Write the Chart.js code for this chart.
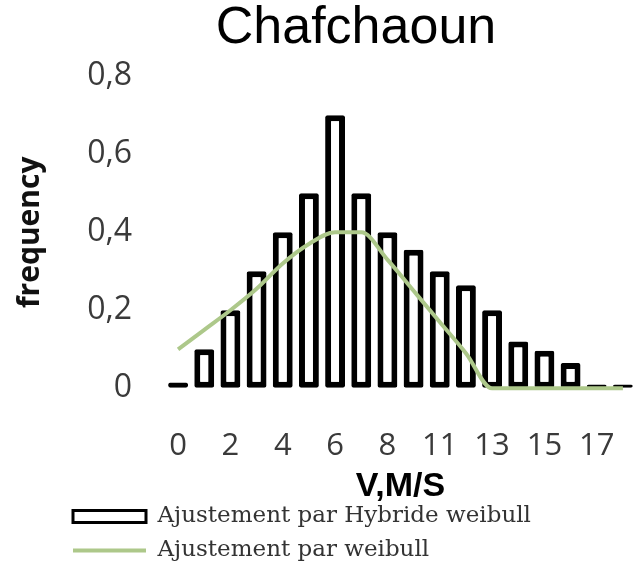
<!DOCTYPE html>
<html>
<head>
<meta charset="utf-8">
<script src="https://cdn.jsdelivr.net/npm/chart.js@4"></script>
<style>
  html, body { margin: 0; padding: 0; background: #fff; }
  #wrap { width: 639px; height: 567px; }
</style>
</head>
<body>
<div id="wrap"><canvas id="my-chart" width="639" height="567"></canvas></div>
<script>
// wind speed classes (V, m/s)
const speedLabels = ["0", "1", "2", "3", "4", "5", "6", "7", "8", "9", "11", "12", "13", "14", "15", "16", "17", "18"];
// Ajustement par Hybride weibull (bars)
const hybridValues = [0.015, 0.1, 0.2, 0.3, 0.4, 0.5, 0.7, 0.5, 0.4, 0.355, 0.3, 0.264, 0.2, 0.12, 0.096, 0.065, 0.01, 0.01];
// Ajustement par weibull (line)
const weibullValues = [0.1, 0.15, 0.2, 0.255, 0.32, 0.37, 0.4, 0.4, 0.33, 0.25, 0.17, 0.09, 0, 0, 0, 0, 0, 0];
const yTickValues = [0, 0.2, 0.4, 0.6, 0.8];
const yTickLabels = ["0", "0,2", "0,4", "0,6", "0,8"];

// move the title and legend sideways, like in the original picture
const nudge = {
  id: "nudge",
  afterLayout(chart) {
    chart.titleBlock.left += 36;
    chart.titleBlock.right += 36;
    chart.legend.left += 58;
    chart.legend.right += 58;
  }
};

// invisible tick marks, used as spacing between the axis and its labels
const hiddenGrid = (len) => ({
  display: true,
  drawOnChartArea: false,
  drawTicks: true,
  tickLength: len,
  color: "rgba(0,0,0,0)"
});

const ctx = document.getElementById("my-chart").getContext("2d");
const chart = new Chart(ctx, {
  type: "bar",
  data: {
    labels: speedLabels,
    datasets: [
      {
        type: "line",
        label: "Ajustement par weibull",
        data: weibullValues,
        borderColor: "#adc88a",
        backgroundColor: "#adc88a",
        borderWidth: 4,
        pointRadius: 0,
        pointStyle: "line",
        cubicInterpolationMode: "monotone",
        clip: 8
      },
      {
        label: "Ajustement par Hybride weibull",
        data: hybridValues,
        backgroundColor: "#ffffff",
        borderColor: "#000000",
        borderWidth: 6,
        borderRadius: 2,
        borderSkipped: false,
        pointStyle: "rect",
        categoryPercentage: 1,
        barPercentage: 0.76
      }
    ]
  },
  options: {
    responsive: false,
    animation: false,
    layout: { padding: { left: 4, right: 3, top: 0, bottom: 0 } },
    plugins: {
      tooltip: { enabled: false },
      title: {
        display: true,
        text: "Chafchaoun",
        color: "#000",
        font: { family: "'Liberation Sans', Arial", size: 52, weight: "normal", lineHeight: 1.1 },
        padding: { top: 0, bottom: 19 }
      },
      legend: {
        position: "bottom",
        align: "start",
        maxHeight: 73,
        labels: {
          usePointStyle: true,
          pointStyleWidth: 73,
          boxHeight: 12,
          padding: 11,
          color: "#333",
          font: { family: "'DejaVu Serif', serif", size: 23 },
          sort: (a, b) => b.datasetIndex - a.datasetIndex,
          generateLabels(chart) {
            const items = Chart.defaults.plugins.legend.labels.generateLabels(chart);
            items.forEach((it) => {
              if (it.datasetIndex === 1) it.lineWidth = 3;
            });
            return items;
          }
        }
      }
    },
    scales: {
      x: {
        grid: hiddenGrid(36),
        border: { display: false },
        ticks: {
          autoSkip: false,
          maxRotation: 0,
          minRotation: 0,
          padding: 3,
          color: "#3a3a3a",
          font: { family: "'Open Sans'", size: 31 },
          callback: (val, i) => (i % 2 === 0 ? speedLabels[i] : "")
        },
        title: {
          display: true,
          text: "V,M/S",
          color: "#000",
          font: { family: "'Liberation Sans', Arial", size: 34, weight: "bold", lineHeight: 1 },
          padding: { top: 2, bottom: -9.5 }
        }
      },
      y: {
        min: 0,
        max: 0.8,
        grid: hiddenGrid(30),
        border: { display: false },
        afterBuildTicks: (scale) => {
          scale.ticks = yTickValues.map((v) => ({ value: v }));
        },
        afterFit: (scale) => {
          scale.width = 161;
        },
        ticks: {
          padding: 3,
          color: "#3a3a3a",
          font: { family: "'Open Sans'", size: 32 },
          callback: (val, i) => yTickLabels[i]
        },
        title: {
          display: true,
          text: "frequency",
          color: "#111",
          font: { family: "'Open Sans'", size: 30, weight: "bold" },
          padding: { top: 8, bottom: 0 }
        }
      }
    }
  },
  plugins: [nudge]
});
</script>
</body>
</html>
